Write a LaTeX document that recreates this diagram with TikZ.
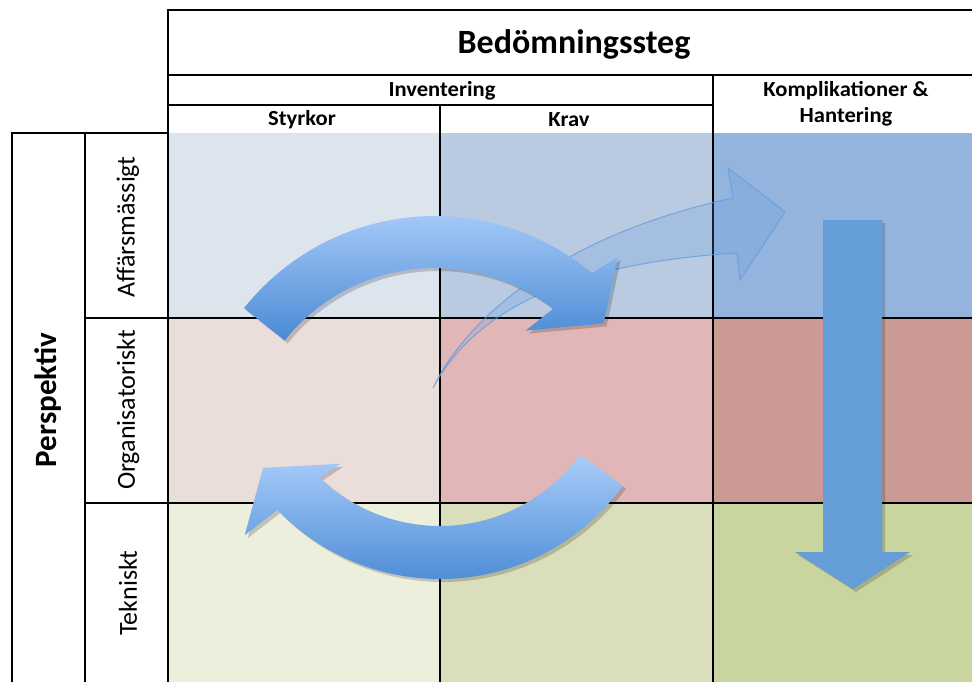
\documentclass[tikz,border=0pt]{standalone}
\usepackage{fontspec}
\setmainfont{Carlito}
\usetikzlibrary{calc}
\definecolor{rAa}{HTML}{DCE4EE}
\definecolor{rAb}{HTML}{B9CAE1}
\definecolor{rAc}{HTML}{94B4DE}
\definecolor{rBa}{HTML}{EBDDDA}
\definecolor{rBb}{HTML}{E0B6B6}
\definecolor{rBc}{HTML}{CC9A95}
\definecolor{rCa}{HTML}{EDEFDD}
\definecolor{rCb}{HTML}{DADEBA}
\definecolor{rCc}{HTML}{C9D59F}
\definecolor{arrtop}{HTML}{A9CDF9}
\definecolor{arrbot}{HTML}{4A8AD5}
\definecolor{downblue}{HTML}{659DD8}
\definecolor{ghostblue}{HTML}{5F9BE0}
\tikzset{
  thickline/.style={line width=2.6pt, black},
  midline/.style={line width=1.6pt, black},
  gridline/.style={line width=1.1pt, black},
  headtxt/.style={font=\bfseries\fontsize{21.5}{26}\selectfont, align=center, xscale=1.05},
  rowtxt/.style={font=\fontsize{26}{31}\selectfont, rotate=90},
  shadowfill/.style={fill=black, opacity=0.18},
}
\begin{document}
\begin{tikzpicture}[x=1pt,y=-1pt]
\useasboundingbox (0,0) rectangle (972,681);
\clip (0,0) rectangle (972,681);
\fill[white] (0,0) rectangle (972,681);
% cells
\fill[rAa] (168,133) rectangle (440,318);
\fill[rAb] (440,133) rectangle (713,318);
\fill[rAc] (713,133) rectangle (975,318);
\fill[rBa] (168,318) rectangle (440,503);
\fill[rBb] (440,318) rectangle (713,503);
\fill[rBc] (713,318) rectangle (975,503);
\fill[rCa] (168,503) rectangle (440,685);
\fill[rCb] (440,503) rectangle (713,685);
\fill[rCc] (713,503) rectangle (975,685);
% grid
\draw[gridline] (440,105) -- (440,685);
\draw[gridline] (713,75) -- (713,685);
\draw[gridline] (85,318) -- (975,318);
\draw[gridline] (85,503) -- (975,503);
\draw[midline] (168,105) -- (713,105);
\draw[thickline] (168,75) -- (975,75);
\draw[thickline] (168,685) -- (168,10) -- (975,10);
\draw[thickline] (12,685) -- (12,133) -- (168,133);
\draw[thickline] (85,133) -- (85,685);
% texts
\node[font=\bfseries\fontsize{34}{40}\selectfont] (title) at (574,44) {Bedömningssteg};
\node[headtxt] (inv) at (442,91) {Inventering};
\node[headtxt] (kompl) at (846,104) {Komplikationer \&\\Hantering};
\node[headtxt] (styr) at (302,120) {Styrkor};
\node[headtxt] (krav) at (569,120) {Krav};
\node[font=\bfseries\fontsize{31}{36}\selectfont, rotate=90] (persp) at (48,400) {Perspektiv};
\node[rowtxt] (aff) at (128,227) {Affärsmässigt};
\node[rowtxt] (org) at (128,410) {Organisatoriskt};
\node[rowtxt] (tek) at (128,593) {Tekniskt};
% translucent arrow
\filldraw[fill=ghostblue, fill opacity=0.22, draw=ghostblue, draw opacity=0.75, line width=1pt]
  (433,388) .. controls (465,320) and (560,235) .. (733,198) -- (728,168) -- (785,212) -- (740,280) -- (737,253) .. controls (590,262) and (480,300) .. (433,388) -- cycle;
% upper curved arrow shadow + arrow
\begin{scope}[shift={(438,463)}]
\fill[shadowfill] (-141.5:244) arc[start angle=-141.5, end angle=-50, radius=244] -- (-48:273) -- (-39:217) -- (-55:158) -- (-52:192) arc[start angle=-52, end angle=-141.5, radius=192] -- cycle;
\end{scope}
\begin{scope}[shift={(435,460)}]
\shade[top color=arrtop, bottom color=arrbot] (-141.5:244) arc[start angle=-141.5, end angle=-50, radius=244] -- (-48:273) -- (-39:217) -- (-55:158) -- (-52:192) arc[start angle=-52, end angle=-141.5, radius=192] -- cycle;
\end{scope}
% lower curved arrow
\begin{scope}[shift={(443,356)}]
\fill[shadowfill] (36:226) arc[start angle=36, end angle=136, radius=226] -- (137:267) -- (147:211) -- (132:149) -- (134:173) arc[start angle=134, end angle=36, radius=173] -- cycle;
\end{scope}
\begin{scope}[shift={(440,353)}]
\shade[top color=arrtop, bottom color=arrbot] (36:226) arc[start angle=36, end angle=136, radius=226] -- (137:267) -- (147:211) -- (132:149) -- (134:173) arc[start angle=134, end angle=36, radius=173] -- cycle;
\end{scope}
% down arrow
\fill[shadowfill] (826,223) -- (885,223) -- (885,555) -- (913,555) -- (856,592) -- (798,555) -- (826,555) -- cycle;
\fill[downblue] (823,220) -- (882,220) -- (882,552) -- (910,552) -- (853,589) -- (795,552) -- (823,552) -- cycle;
\end{tikzpicture}
\end{document}
